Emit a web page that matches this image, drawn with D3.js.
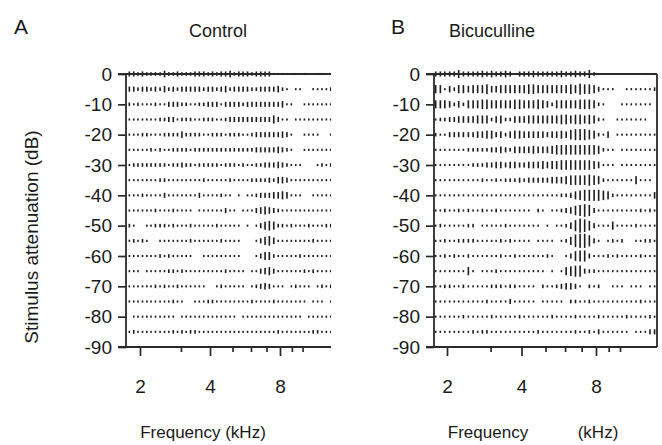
<!DOCTYPE html>
<html>
<head>
<meta charset="utf-8">
<script src="https://cdn.jsdelivr.net/npm/d3@7"></script>
<style>
  body { margin: 0; background: #fff; }
  svg { display: block; font-family: 'Liberation Sans', Arial, sans-serif; }
  .tick text { font-size: 19px; fill: #1a1a1a; }
  .tick line { stroke: #2a2a2a; stroke-width: 1.7; }
  .frame { stroke: #2a2a2a; stroke-width: 1.8; fill: none; }
  .title-label { font-size: 18px; fill: #1a1a1a; }
  .panel-letter { font-size: 21px; fill: #1a1a1a; }
  .axis-label { font-size: 17px; fill: #1a1a1a; }
  .y-label { font-size: 19px; fill: #1a1a1a; }
</style>
</head>
<body>
<svg width="662" height="445"></svg>
<script>
const svg = d3.select('svg');
const width = +svg.attr('width');
const height = +svg.attr('height');

// stimulus levels (dB attenuation), one raster row each
const levels = [0, -5, -10, -15, -20, -25, -30, -35, -40, -45, -50, -55, -60, -65, -70, -75, -80, -85];

// tone frequencies (kHz), 1/16 octave steps
const freqs = [1.80, 1.88, 1.96, 2.05, 2.14, 2.23, 2.33, 2.44, 2.55, 2.66, 2.78, 2.90,
  3.03, 3.16, 3.30, 3.45, 3.60, 3.76, 3.93, 4.10, 4.28, 4.47, 4.67, 4.88,
  5.09, 5.32, 5.55, 5.80, 6.06, 6.33, 6.61, 6.90, 7.20, 7.52, 7.86, 8.20,
  8.57, 8.95, 9.35, 9.76, 10.19, 10.64, 11.11, 11.61, 12.12, 12.66, 13.22, 13.80];

const yTickValues = [0, -10, -20, -30, -40, -50, -60, -70, -80, -90];
const xTickValues = [2, 3, 4, 5, 6, 7, 8, 9, 10];
const xTickLabels = [2, 4, 8];

// spike counts per frequency (one digit per tone), row order follows levels
const controlCounts = [
  '332322224223222333232334233323333111101110011011',
  '332332324232333332332342333322333342101100111121',
  '212111211333221122333133332333333334110011111111',
  '111111122331222112221123333333333531101111111111',
  '111221112222422221122212221123333334310011110011',
  '111112121122221222222222222223333343210011111111',
  '122222222122322122222122212112233343211100012121',
  '111111122111111112111112111122223244311111111111',
  '111211113111111131111211010112333445411100111111',
  '111111211121111011111131101113454321111111111111',
  '210011222121112111112111110101356522121112111222',
  '121210011111112111111211110001356411111111211111',
  '111111121211111001111111110001355211111211111111',
  '111011111221211111111121111011345311111121211111',
  '111111212112111111001211111012343111012111012121',
  '111111111121100111221111111121111211111110111011',
  '011111111110111111111111101111111111111101111111',
  '121111111121212211111111111111111121111111221111'
];

const bicucullineCounts = [
  '333335333343433431333433333433433521000000000101',
  '551425545556445555556655555556576653111001111112',
  '555424255566555556655565425555566652100011111110',
  '122334444555245224445555555665665652100111111100',
  '211333333445534245544444344546777652140111111111',
  '111111122222334324444544456666666665211011111111',
  '111111112223344344334445455666666654111011111111',
  '111111111121121222323333344456666765211111151110',
  '111111111111111111111111111223567777652111111114',
  '112112121121121111111021011234678731111111112121',
  '121111122011111211111110101124798631115111121111',
  '112112222111112121111011110125899731012120011221',
  '112121121111112112111111210013677311121211112111',
  '111111151011121111111111010156773221111111111111',
  '112211211111222122111102112344310212001110111011',
  '111111111112111131111101111102211211111111112111',
  '111111211111211111211111121111211112111112111121',
  '111111112122111111111121111111211213111111011133'
];

const plotTop = 74;
const plotBottom = 347;

const panels = [
  { letter: 'A', title: 'Control', counts: controlCounts, left: 126, right: 336, clipRight: 331,
    x2: 140, x8: 280, titleX: 218, letterX: 14, yLabel: true,
    xTitles: [{ text: 'Frequency (kHz)', x: 203 }] },
  { letter: 'B', title: 'Bicuculline', counts: bicucullineCounts, left: 434, right: 657, clipRight: 662,
    x2: 447, x8: 596, titleX: 492, letterX: 391, yLabel: false,
    xTitles: [{ text: 'Frequency', x: 488 }, { text: '(kHz)', x: 598 }] }
];

const spikeHeight = c => 0.6 + 1.5 * c;

const render = p => {
  const innerWidth = p.right - p.left;
  const innerHeight = plotBottom - plotTop;

  const xScale = d3.scaleLog()
    .domain([2, 8])
    .range([p.x2 - p.left, p.x8 - p.left]);

  const yScale = d3.scaleLinear()
    .domain([-90, 0])
    .range([innerHeight, 0]);

  const clipId = 'clip-' + p.letter;
  svg.append('clipPath')
    .attr('id', clipId)
    .append('rect')
      .attr('x', -140)
      .attr('y', -30)
      .attr('width', p.clipRight - p.left + 140)
      .attr('height', innerHeight + 120);

  const g = svg.append('g')
    .attr('transform', `translate(${p.left},${plotTop})`)
    .attr('clip-path', `url(#${clipId})`);

  // raster of spike counts
  const marks = p.counts.flatMap((row, r) =>
    row.split('').map((c, i) => ({ level: levels[r], freq: freqs[i], count: +c })))
    .filter(d => d.count > 0);

  g.selectAll('rect.spike').data(marks)
    .enter().append('rect')
      .attr('class', 'spike')
      .attr('x', d => xScale(d.freq) - 0.8)
      .attr('width', 1.6)
      .attr('y', d => yScale(d.level) - spikeHeight(d.count) / 2)
      .attr('height', d => spikeHeight(d.count))
      .attr('fill', '#1c1c1c');

  const yAxis = d3.axisLeft(yScale)
    .tickValues(yTickValues)
    .tickSize(8)
    .tickPadding(6)
    .tickFormat(d => String(d));

  const yAxisG = g.append('g').call(yAxis);
  yAxisG.select('.domain').remove();

  const xAxis = d3.axisBottom(xScale)
    .tickValues(xTickValues)
    .tickSize(5)
    .tickFormat(d => xTickLabels.includes(d) ? String(d) : '');

  const xAxisG = g.append('g').call(xAxis)
    .attr('transform', `translate(0,${innerHeight})`);
  xAxisG.select('.domain').remove();
  xAxisG.selectAll('.tick line')
    .attr('y2', d => xTickLabels.includes(d) ? 9 : 5);
  xAxisG.selectAll('.tick text')
    .attr('y', 33);

  // frame
  g.append('line').attr('class', 'frame')
    .attr('x1', 0).attr('x2', 0).attr('y1', 0).attr('y2', innerHeight);
  g.append('line').attr('class', 'frame')
    .attr('x1', -8).attr('x2', innerWidth).attr('y1', 0).attr('y2', 0);
  g.append('line').attr('class', 'frame')
    .attr('x1', -8).attr('x2', innerWidth).attr('y1', innerHeight).attr('y2', innerHeight);
  g.append('line').attr('class', 'frame')
    .attr('x1', innerWidth).attr('x2', innerWidth).attr('y1', 0).attr('y2', innerHeight);

  svg.append('text')
    .attr('class', 'panel-letter')
    .attr('x', p.letterX)
    .attr('y', 34)
    .text(p.letter);

  svg.append('text')
    .attr('class', 'title-label')
    .attr('x', p.titleX)
    .attr('y', 37)
    .attr('text-anchor', 'middle')
    .text(p.title);

  p.xTitles.forEach(t => {
    svg.append('text')
      .attr('class', 'axis-label')
      .attr('x', t.x)
      .attr('y', 438)
      .attr('text-anchor', 'middle')
      .text(t.text);
  });

  if (p.yLabel) {
    svg.append('text')
      .attr('class', 'y-label')
      .attr('transform', `translate(38,237) rotate(-90)`)
      .attr('text-anchor', 'middle')
      .text('Stimulus attenuation (dB)');
  }
};

panels.forEach(render);
</script>
</body>
</html>
